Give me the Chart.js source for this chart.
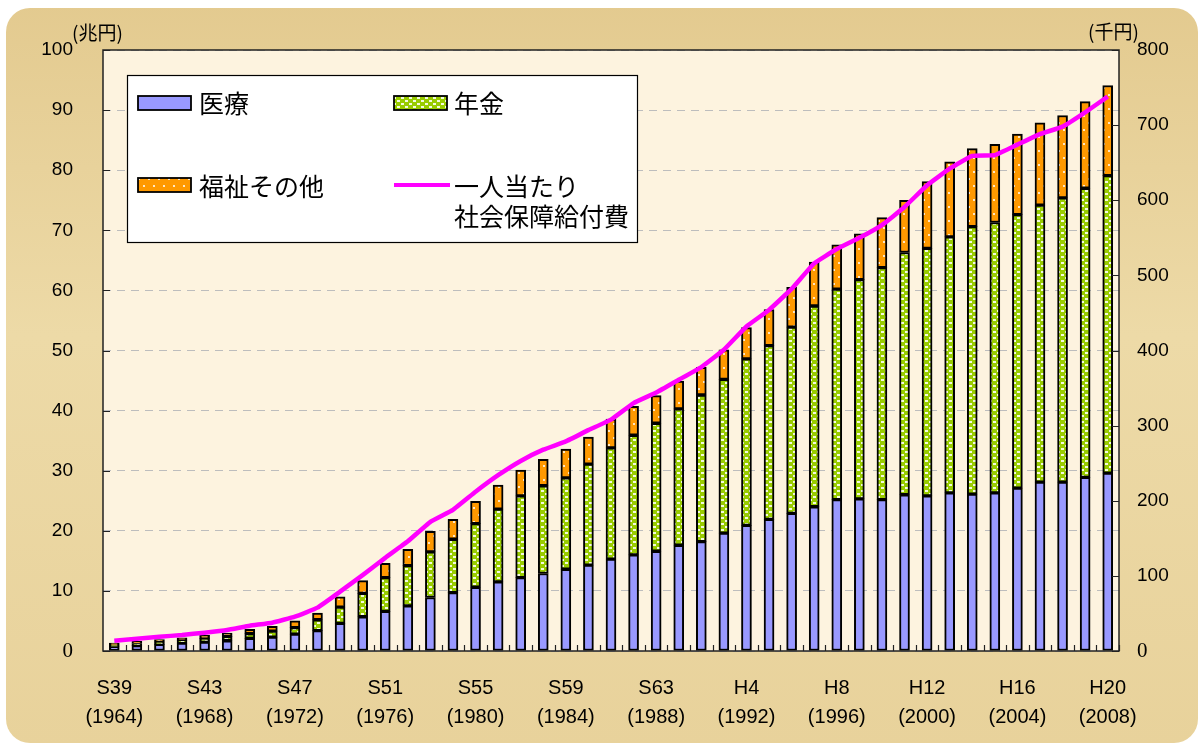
<!DOCTYPE html>
<html>
<head>
<meta charset="utf-8">
<script src="https://cdn.jsdelivr.net/npm/chart.js@4.4.1/dist/chart.umd.min.js"></script>
<style>
    html, body { margin: 0; padding: 0; background: #fff; }
    #wrap { width: 1198px; height: 746px; }
</style>
</head>
<body>
<div id="wrap"><canvas id="socialChart" width="1198" height="746"></canvas></div>
<script>
// 年度 (S39 .. H20)
const years = [1964, 1965, 1966, 1967, 1968, 1969, 1970, 1971, 1972, 1973,
    1974, 1975, 1976, 1977, 1978, 1979, 1980, 1981, 1982, 1983,
    1984, 1985, 1986, 1987, 1988, 1989, 1990, 1991, 1992, 1993,
    1994, 1995, 1996, 1997, 1998, 1999, 2000, 2001, 2002, 2003,
    2004, 2005, 2006, 2007, 2008];

// x axis labels (every 4 years)
const eraLabels = ['S39', 'S43', 'S47', 'S51', 'S55', 'S59', 'S63', 'H4', 'H8', 'H12', 'H16', 'H20'];
const eraYears = [1964, 1968, 1972, 1976, 1980, 1984, 1988, 1992, 1996, 2000, 2004, 2008];

// 兆円
const medical = [0.7, 0.9, 1.1, 1.3, 1.5, 1.7, 2.1, 2.3, 2.8, 3.4,
    4.6, 5.7, 6.6, 7.5, 8.9, 9.7, 10.6, 11.5, 12.2, 12.9,
    13.6, 14.3, 15.3, 16.0, 16.6, 17.6, 18.2, 19.6, 20.9, 21.9,
    22.9, 24.0, 25.2, 25.3, 25.2, 26.0, 25.8, 26.3, 26.1, 26.3,
    27.1, 28.1, 28.1, 28.9, 29.6];
const pension = [0.3, 0.35, 0.4, 0.5, 0.6, 0.7, 0.8, 1.0, 1.1, 1.8,
    2.7, 3.9, 5.6, 6.7, 7.6, 8.9, 10.6, 12.1, 13.6, 14.6,
    15.2, 16.8, 18.5, 19.9, 21.3, 22.7, 24.4, 25.6, 27.7, 28.9,
    31.0, 33.4, 35.0, 36.5, 38.6, 40.3, 41.2, 42.6, 44.5, 45.0,
    45.5, 46.1, 47.3, 48.1, 49.5];
const welfare = [0.3, 0.35, 0.4, 0.4, 0.5, 0.6, 0.7, 0.8, 1.1, 1.1,
    1.7, 2.1, 2.4, 2.7, 3.4, 3.3, 3.7, 4.0, 4.3, 4.4,
    4.8, 4.5, 4.8, 4.8, 4.6, 4.6, 4.6, 4.9, 5.2, 6.0,
    6.6, 7.3, 7.4, 7.6, 8.3, 8.7, 11.1, 12.5, 13.0, 13.0,
    13.4, 13.7, 13.7, 14.4, 15.0];

// 千円
const perCapita = [13.7, 16.4, 19.0, 21.3, 24.4, 28, 33.7, 37.7, 45.7, 57.7,
    79, 101, 124, 146, 172, 188, 212, 234, 253, 268,
    279, 294, 308, 330, 344, 361, 378, 401, 432, 454,
    482, 516, 535, 550, 567, 591, 620, 642, 659, 660,
    674, 688, 698, 717, 738];

const leftTicks = [0, 10, 20, 30, 40, 50, 60, 70, 80, 90, 100];
const rightTicks = [0, 100, 200, 300, 400, 500, 600, 700, 800];

const canvas = document.getElementById('socialChart');
const ctx = canvas.getContext('2d');

function makePattern(base, dot, w, h, rects) {
    const c = document.createElement('canvas');
    c.width = w;
    c.height = h;
    const g = c.getContext('2d');
    g.fillStyle = base;
    g.fillRect(0, 0, w, h);
    g.fillStyle = dot;
    rects.forEach(r => g.fillRect(r[0], r[1], r[2], r[3]));
    return ctx.createPattern(c, 'repeat');
}

const greenFill = makePattern('#99CC00', '#F4FBE0', 8, 6, [[1, 1, 3, 2], [5, 4, 3, 2]]);
const orangeFill = makePattern('#FF9900', '#FFE7C2', 10, 14, [[3, 3, 2, 2], [8, 10, 2, 2]]);

const numFont = "'Liberation Sans', Arial, sans-serif";
const jpFont = "'Noto Sans CJK JP', 'Noto Sans', sans-serif";

// background, frame, inward ticks, units and legend
const decorations = {
    id: 'decorations',
    beforeDraw(chart) {
        const { ctx, chartArea: a, width, height } = chart;
        ctx.save();
        ctx.fillStyle = '#fff';
        ctx.fillRect(0, 0, width, height);
        const g = ctx.createLinearGradient(0, 0, 0, height);
        g.addColorStop(0, '#E3CA8F');
        g.addColorStop(0.45, '#EDDAA7');
        g.addColorStop(1, '#E8D29B');
        ctx.fillStyle = g;
        ctx.beginPath();
        ctx.roundRect(6, 8, width - 6, height - 11, 24);
        ctx.fill();
        ctx.fillStyle = '#FDF3DF';
        ctx.fillRect(a.left, a.top, a.right - a.left, a.bottom - a.top);
        ctx.restore();
    },
    afterDraw(chart) {
        const { ctx, chartArea: a, scales } = chart;
        ctx.save();

        // plot frame
        ctx.strokeStyle = '#222';
        ctx.lineWidth = 1.5;
        ctx.strokeRect(a.left, a.top, a.right - a.left, a.bottom - a.top);

        // inward tick marks
        ctx.beginPath();
        ctx.lineWidth = 1.2;
        leftTicks.forEach(v => {
            const y = Math.round(scales.y.getPixelForValue(v)) + 0.5;
            ctx.moveTo(a.left, y);
            ctx.lineTo(a.left + 7, y);
        });
        rightTicks.forEach(v => {
            const y = Math.round(scales.y1.getPixelForValue(v)) + 0.5;
            ctx.moveTo(a.right, y);
            ctx.lineTo(a.right - 7, y);
        });
        const half = (scales.x.getPixelForValue(1) - scales.x.getPixelForValue(0)) / 2;
        for (let i = 0; i < years.length; i++) {
            const x = Math.round(scales.x.getPixelForValue(i) + half) + 0.5;
            ctx.moveTo(x, a.bottom);
            ctx.lineTo(x, a.bottom - 6);
        }
        ctx.stroke();

        // units
        ctx.fillStyle = '#000';
        ctx.font = '19px ' + jpFont;
        ctx.textBaseline = 'middle';
        ctx.textAlign = 'left';
        ctx.fillText('(兆円)', 72, 33);
        ctx.fillText('(千円)', 1088, 32);

        // legend
        const ds = chart.data.datasets;
        const box = { x: 127, y: 75, w: 510, h: 167 };
        ctx.fillStyle = '#fff';
        ctx.fillRect(box.x, box.y, box.w, box.h);
        ctx.strokeStyle = '#000';
        ctx.lineWidth = 1.2;
        ctx.strokeRect(box.x + 0.5, box.y + 0.5, box.w, box.h);

        const items = [
            { d: ds[0], sx: 138, sy: 96, tx: 199, ty: 103 },
            { d: ds[1], sx: 394, sy: 96, tx: 454, ty: 103 },
            { d: ds[2], sx: 138, sy: 178, tx: 199, ty: 186 },
            { d: ds[3], sx: 394, sy: 185, tx: 454, ty: 186 }
        ];
        ctx.font = '25px ' + jpFont;
        items.forEach(it => {
            if (it.d.type === 'line') {
                ctx.strokeStyle = it.d.borderColor;
                ctx.lineWidth = 4;
                ctx.beginPath();
                ctx.moveTo(it.sx, it.sy);
                ctx.lineTo(it.sx + 56, it.sy);
                ctx.stroke();
            } else {
                ctx.fillStyle = it.d.backgroundColor;
                ctx.fillRect(it.sx, it.sy, 53, 14);
                ctx.strokeStyle = '#000';
                ctx.lineWidth = 1.8;
                ctx.strokeRect(it.sx, it.sy, 53, 14);
            }
            ctx.fillStyle = '#000';
            it.d.label.split(' ').forEach((line, k) => {
                ctx.fillText(line, it.tx, it.ty + k * 30);
            });
        });
        ctx.restore();
    }
};

const barStyle = {
    borderColor: '#000',
    borderWidth: 2,
    borderSkipped: false,
    barThickness: 10,
    yAxisID: 'y',
    order: 1
};

new Chart(ctx, {
    type: 'bar',
    data: {
        labels: years,
        datasets: [
            Object.assign({ label: '医療', data: medical, backgroundColor: '#9999FF' }, barStyle),
            Object.assign({ label: '年金', data: pension, backgroundColor: greenFill }, barStyle),
            Object.assign({ label: '福祉その他', data: welfare, backgroundColor: orangeFill }, barStyle),
            {
                type: 'line',
                label: '一人当たり 社会保障給付費',
                data: perCapita,
                yAxisID: 'y1',
                borderColor: '#FF00FF',
                backgroundColor: '#FF00FF',
                borderWidth: 4.5,
                pointRadius: 0,
                tension: 0.1,
                order: 0
            }
        ]
    },
    options: {
        responsive: false,
        animation: false,
        layout: { padding: { top: 50, left: 0, right: 0, bottom: 0 } },
        plugins: {
            legend: { display: false },
            tooltip: { enabled: false }
        },
        scales: {
            x: {
                stacked: true,
                offset: true,
                grid: { display: false, drawTicks: false },
                border: { display: false },
                ticks: {
                    autoSkip: false,
                    maxRotation: 0,
                    padding: 23,
                    color: '#000',
                    font: { family: numFont, size: 20, lineHeight: 1.45 },
                    callback: function (value, index) {
                        const k = eraYears.indexOf(years[index]);
                        return k >= 0 ? [eraLabels[k], '(' + eraYears[k] + ')'] : '';
                    }
                },
                afterFit(scale) { scale.height = 95; }
            },
            y: {
                stacked: true,
                position: 'left',
                min: 0,
                max: 100,
                afterBuildTicks(scale) { scale.ticks = leftTicks.map(v => ({ value: v })); },
                grid: { color: '#BDBDBD', lineWidth: 1, drawTicks: false },
                border: { display: false, dash: [8, 6] },
                ticks: {
                    padding: 30,
                    color: '#000',
                    font: c => c.tick && c.tick.value === 0
                        ? { family: "'Liberation Serif', serif", size: 21 }
                        : { family: numFont, size: 19 }
                },
                afterFit(scale) { scale.width = 103; }
            },
            y1: {
                position: 'right',
                min: 0,
                max: 800,
                afterBuildTicks(scale) { scale.ticks = rightTicks.map(v => ({ value: v })); },
                grid: { drawOnChartArea: false, drawTicks: false },
                border: { display: false },
                ticks: {
                    padding: 18,
                    color: '#000',
                    font: c => c.tick && c.tick.value === 0
                        ? { family: "'Liberation Serif', serif", size: 21 }
                        : { family: numFont, size: 19 }
                },
                afterFit(scale) { scale.width = 79; }
            }
        }
    },
    plugins: [decorations]
});
</script>
</body>
</html>
